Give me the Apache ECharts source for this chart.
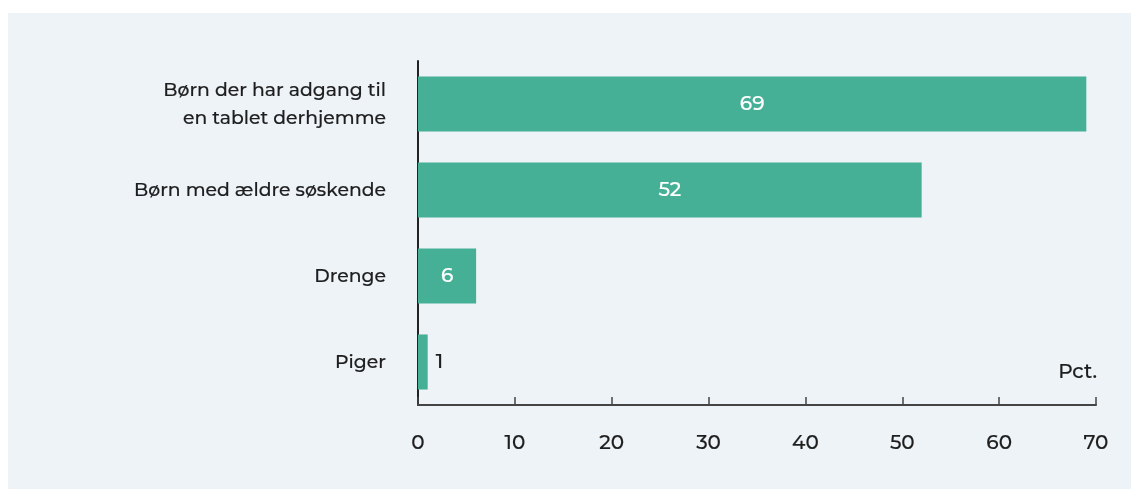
<!DOCTYPE html>
<html><head><meta charset="utf-8">
<script src="https://cdn.jsdelivr.net/npm/echarts@6/dist/echarts.min.js"></script>
<style>html,body{margin:0;padding:0;background:#fff}#c{width:1131px;height:489px}</style>
</head><body><div id="c"></div>
<script>
const categories = ["Børn der har adgang til\nen tablet derhjemme", "Børn med ældre søskende", "Drenge", "Piger"];
const values = [69, 52, 6, 1];
const xTicks = [0, 10, 20, 30, 40, 50, 60, 70];
const unitLabel = "Pct.";

const font = "Montserrat, 'Open Sans', sans-serif";
const ink = '#1e1e1e';
const sw = 0.15;
const chart = echarts.init(document.getElementById('c'));
chart.setOption({
  animation: false,
  backgroundColor: '#ffffff',
  graphic: [
    { type: 'rect', z: -10, left: 8, top: 13, shape: { width: 1123, height: 476 }, style: { fill: '#eef3f8' } },
    { type: 'text', right: 34, top: 362, style: { text: unitLabel, font: "500 20px " + font, fill: ink, stroke: ink, lineWidth: sw } }
  ],
  grid: { left: 418, right: 35, top: 61, bottom: 84 },
  xAxis: {
    type: 'value', min: xTicks[0], max: xTicks[xTicks.length - 1], interval: 10,
    axisLine: { show: true, lineStyle: { color: '#444', width: 2 } },
    axisTick: { show: true, inside: true, length: 8, lineStyle: { color: '#444', width: 1.5 } },
    axisLabel: { fontSize: 20, fontWeight: 500, color: ink, margin: 28, fontFamily: font, textBorderColor: ink, textBorderWidth: sw },
    splitLine: { show: false }
  },
  yAxis: {
    type: 'category', data: categories, inverse: true,
    axisLine: { show: true, lineStyle: { color: '#222', width: 2 } },
    axisTick: { show: false },
    axisLabel: { fontSize: 18.8, fontWeight: 500, color: ink, margin: 32, lineHeight: 28, fontFamily: font, align: 'right', textBorderColor: ink, textBorderWidth: sw }
  },
  series: [{
    type: 'bar', data: values.map((v, i) => ({
      value: v,
      label: v < 3 ? { position: 'right', color: ink, distance: 8, textBorderColor: ink, textBorderWidth: sw } : {}
    })),
    barCategoryGap: '36%',
    itemStyle: { color: '#45b096' },
    label: { show: true, position: 'inside', color: '#fff', fontSize: 20, fontWeight: 500, fontFamily: font, textBorderColor: '#fff', textBorderWidth: sw }
  }]
});
</script></body></html>
